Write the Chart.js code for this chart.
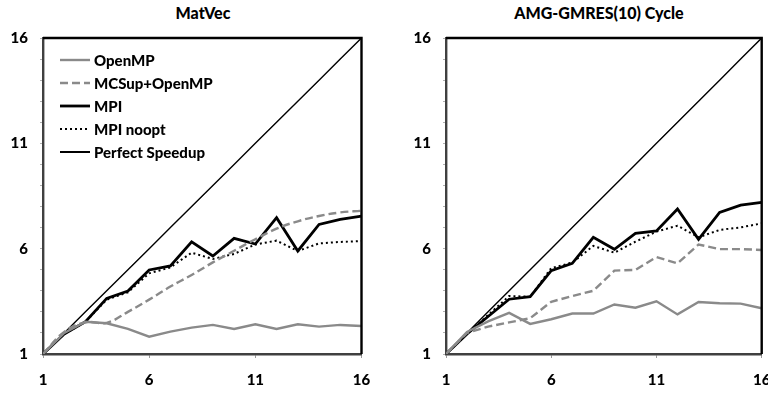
<!DOCTYPE html>
<html>
<head>
<meta charset="utf-8">
<script src="https://cdn.jsdelivr.net/npm/chart.js@4.4.1/dist/chart.umd.min.js"></script>
<style>
  html, body { margin:0; padding:0; background:#fff; width:768px; height:394px; overflow:hidden; position:relative; }
  canvas { position:absolute; top:0; }
  .title { position:absolute; top:3px; font: 900 16px Lato, "Liberation Sans", sans-serif; color:#000; white-space:nowrap; transform:translateX(-50%); }
  #legend { position:absolute; left:60px; top:48px; font: 900 15px Lato, "Liberation Sans", sans-serif; color:#000; }
  #legend .row { height:23px; display:flex; align-items:center; }
  #legend svg { margin-right:4px; }
</style>
</head>
<body>
<div class="title" style="left:203px">MatVec</div>
<div class="title" style="left:599px">AMG-GMRES(10) Cycle</div>
<canvas id="c1" width="384" height="394" style="left:0;width:384px;height:394px"></canvas>
<canvas id="c2" width="400" height="394" style="left:384px;width:400px;height:394px"></canvas>
<div id="legend"></div>
<script>
// ---- data ----
const cores = [1,2,3,4,5,6,7,8,9,10,11,12,13,14,15,16];
const xTicks = [1,6,11,16];
const yTickValues = [1,2,3,4,5,6,7,8,9,10,11,12,13,14,15,16];
const yLabels = [1,6,11,16];
const seriesNames = ["OpenMP","MCSup+OpenMP","MPI","MPI noopt","Perfect Speedup"];

// MatVec
const mvOpenMP = [1,2.0,2.53,2.46,2.19,1.82,2.06,2.25,2.38,2.19,2.41,2.19,2.41,2.30,2.38,2.33];
const mvMCSup  = [1,2.05,2.5,2.48,3.0,3.58,4.2,4.75,5.35,5.9,6.45,6.95,7.3,7.55,7.72,7.8];
const mvMPI    = [1,1.95,2.53,3.64,3.99,4.99,5.18,6.32,5.65,6.49,6.22,7.47,5.89,7.15,7.39,7.55];
const mvNoopt  = [1,1.95,2.53,3.58,3.93,4.83,5.11,5.81,5.51,5.75,6.20,6.38,5.89,6.25,6.32,6.36];
// AMG-GMRES(10) Cycle
const amgOpenMP = [1,2.05,2.55,2.95,2.43,2.65,2.92,2.92,3.35,3.2,3.5,2.88,3.47,3.41,3.39,3.17];
const amgMCSup  = [1,2.0,2.3,2.5,2.7,3.48,3.75,4.0,4.96,4.99,5.6,5.3,6.2,5.98,5.98,5.94];
const amgMPI    = [1,1.95,2.78,3.6,3.72,4.96,5.3,6.54,5.97,6.73,6.84,7.88,6.44,7.72,8.07,8.2];
const amgNoopt  = [1,1.95,2.85,3.75,3.72,5.08,5.34,6.13,5.81,6.33,6.81,7.09,6.54,6.89,7.01,7.2];
const perfect   = [1,2,3,4,5,6,7,8,9,10,11,12,13,14,15,16];

// ---- styles ----
const FONT = 'Lato, "Liberation Sans", sans-serif';
const styles = [
  {color:'#8a8a8a', width:2.4, dash:[], legendWidth:2.4},
  {color:'#8a8a8a', width:2.4, dash:[8,4], legendWidth:2.4},
  {color:'#000000', width:2.8, dash:[], legendWidth:2.8},
  {color:'#000000', width:2, dash:[2,3], legendWidth:2},
  {color:'#000000', width:1.4, dash:[], legendWidth:2}
];

function pts(ys){ return cores.map((x,i)=>({x:x, y:ys[i]})); }

function makeDatasets(arrs, smoothIdx){
  return arrs.map((ys,i)=>({
    label: seriesNames[i],
    data: pts(ys),
    borderColor: styles[i].color,
    borderWidth: styles[i].width,
    borderDash: styles[i].dash,
    pointRadius: 0,
    tension: (i===smoothIdx) ? 0.4 : 0,
    fill:false
  }));
}

const frame = {
  id:'frame',
  afterDraw(c){
    const {ctx, chartArea:a} = c;
    ctx.save();
    ctx.strokeStyle = '#000';
    ctx.lineWidth = 2.4;
    ctx.beginPath();
    ctx.moveTo(a.left, a.top);
    ctx.lineTo(a.right, a.top);
    ctx.lineTo(a.right, a.bottom);
    ctx.stroke();
    ctx.restore();
  }
};

function makeChart(id, datasets, padLeft, padRight){
  return new Chart(document.getElementById(id), {
    type:'line',
    data:{ datasets },
    plugins:[frame],
    options:{
      responsive:false,
      animation:false,
      devicePixelRatio:1,
      layout:{ padding:{ top:38, bottom:0, left:padLeft, right:padRight } },
      plugins:{ legend:{display:false}, tooltip:{enabled:false}, title:{display:false} },
      scales:{
        x:{
          type:'linear', min:1, max:16,
          afterBuildTicks: s => { s.ticks = xTicks.map(v=>({value:v})); },
          afterFit: s => { s.height = 40; },
          grid:{ drawOnChartArea:false, tickLength:4, color:'#9a9a9a' },
          border:{ color:'#404040', width:2.4 },
          ticks:{ font:{family:FONT, weight:'900', size:15}, color:'#000', padding:13, maxRotation:0, autoSkip:false }
        },
        y:{
          type:'linear', min:1, max:16,
          afterBuildTicks: s => { s.ticks = yTickValues.map(v=>({value:v})); },
          afterFit: s => { s.width = 43; },
          grid:{ drawOnChartArea:false, tickLength:3, color:'#b0b0b0' },
          border:{ color:'#404040', width:2.4 },
          ticks:{ font:{family:FONT, weight:'900', size:15}, color:'#000', padding:12, autoSkip:false,
                  callback: v => yLabels.includes(v) ? String(v) : '' }
        }
      }
    }
  });
}

makeChart('c1', makeDatasets([mvOpenMP, mvMCSup, mvMPI, mvNoopt, perfect], 1), 0, 22.5);
makeChart('c2', makeDatasets([amgOpenMP, amgMCSup, amgMPI, amgNoopt, perfect], -1), 19, 22.3);

// HTML legend
const lg = document.getElementById('legend');
seriesNames.forEach((n,i)=>{
  const s = styles[i];
  const row = document.createElement('div');
  row.className = 'row';
  row.innerHTML = '<svg width="30" height="6"><line x1="0" y1="3" x2="30" y2="3" stroke="'+s.color+'" stroke-width="'+s.legendWidth+'" stroke-dasharray="'+(s.dash.length? s.dash.join(','):'none')+'"/></svg><span>'+n+'</span>';
  lg.appendChild(row);
});
</script>
</body>
</html>
